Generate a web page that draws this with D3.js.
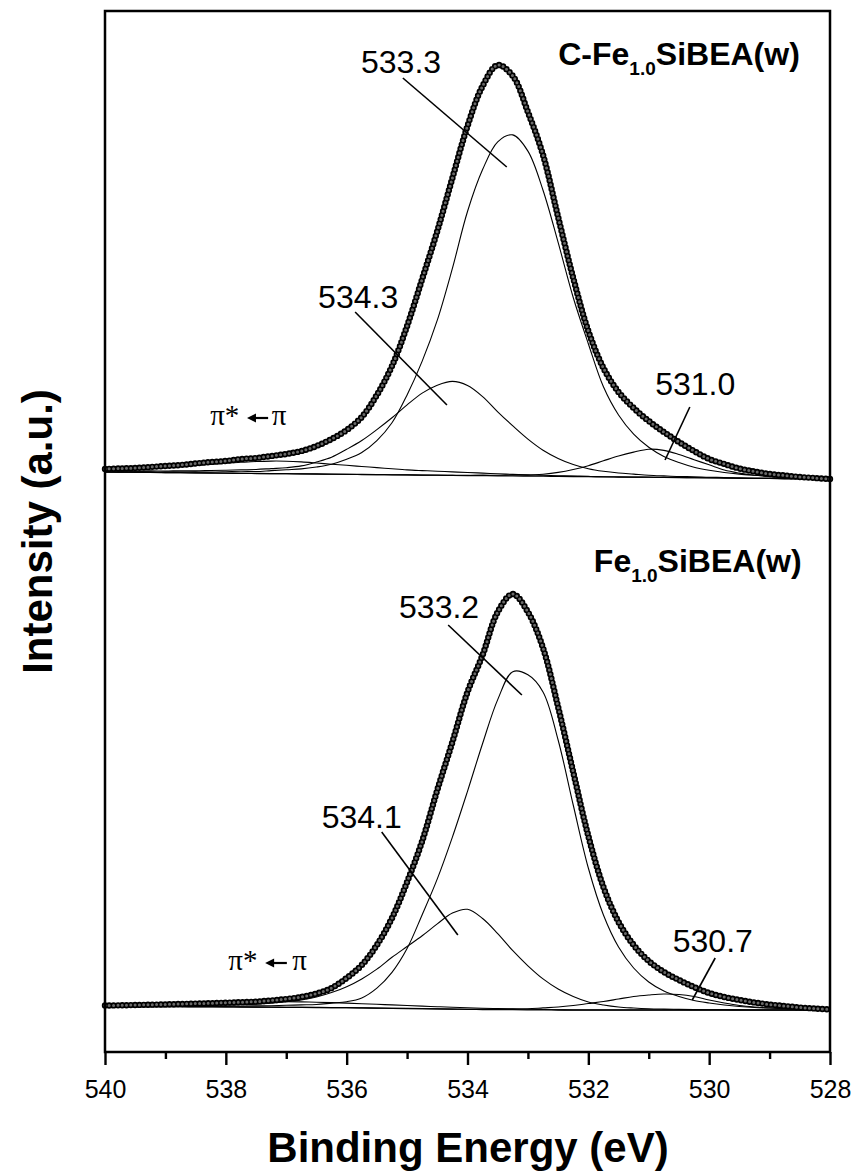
<!DOCTYPE html>
<html><head><meta charset="utf-8">
<script src="https://cdn.jsdelivr.net/npm/d3@7"></script>
<style>html,body{margin:0;padding:0;background:#fff}</style>
</head><body>
<svg id="chart" width="857" height="1171"></svg>
<script>
// Binding energy grid (eV)
const energy = [540,539.75,539.5,539.25,539,538.75,538.5,538.25,538,537.75,537.5,537.25,537,536.75,536.5,536.25,536,535.75,535.5,535.25,535,534.75,534.5,534.25,534,533.75,533.5,533.25,533,532.75,532.5,532.25,532,531.75,531.5,531.25,531,530.75,530.5,530.25,530,529.75,529.5,529.25,529,528.75,528.5,528.25,528];

// ---- C-Fe1.0SiBEA(w) (upper spectrum), intensity a.u. ----
const topData = [583,583.5,584,585,586,587,588.5,590,591,593,594,596,598,601,606,613,622,635,657,686,726,773,821,874,926,966,987,976,940,897,835,774,721,684,660,644,631,620,610,601,593,588,583.5,580.5,578,576.5,575,574,573];
const topBg = [580.0,579.9,579.7,579.6,579.4,579.3,579.1,579.0,578.8,578.7,578.5,578.4,578.3,578.1,578.0,577.8,577.7,577.5,577.4,577.2,577.1,576.9,576.8,576.6,576.5,576.4,576.2,576.1,575.9,575.8,575.6,575.5,575.3,575.2,575.0,574.9,574.8,574.6,574.5,574.3,574.2,574.0,573.9,573.7,573.6,573.4,573.3,573.1,573.0];
const topPeak5333 = [0,0,0.5,0.5,0.5,1,1,1,1.5,2,2,3,4,5,7,10,15,22,34,52,80,114,155,207,264,306,334,341,325,286,234,179,133,90,62,43,30,21,15,10.5,7.5,5.5,4,3,2,1.5,1,1,0.5];
const topPeak5343 = [1,1,1,1.5,1.5,2,2,2.5,3,3.5,4,5,6,8,12,17,25,34,45,57,70,82,90,94,90,79,64,50,37,26,18,12,8,5.5,4,3,2,1.5,1,1,0.5,0.5,0,0,0,0,0,0,0];
const topPeak5310 = [0,0,0,0,0,0,0,0,0,0,0,0,0,0,0,0,0,0,0,0,0,0,0,0,0,0.5,0.5,1,1,2,4,7,11,16,21,25,28,27,23,18,13,8,5,3,2,1,1,0.5,0];
const topShake = [2.5,3,3.5,4.5,5.5,6.5,7.5,9,10,11,12,12.5,12.5,12,11,10,9,8,7,6,5,4.5,4,3.5,3,2.5,2,1.5,1.2,1,0.7,0.5,0.3,0,0,0,0,0,0,0,0,0,0,0,0,0,0,0,0];

// ---- Fe1.0SiBEA(w) (lower spectrum) ----
const botData = [46.5,46.7,47,47.3,47.6,48,48.4,48.8,49.3,49.8,50.4,51.5,53,55,58.5,64,74,87,107,134,170,211,262,310,360,397,440,458,440,404,345,280,216,165,130,107,91,80,72,65,59,55,52,49.5,47.5,46,44.5,43.5,42.5];
const botBg = [45.5,45.5,45.4,45.4,45.3,45.3,45.2,45.2,45.1,45.0,44.9,44.8,44.7,44.6,44.5,44.4,44.3,44.1,43.9,43.7,43.5,43.3,43.1,42.9,42.7,42.5,42.4,42.3,42.2,42.1,42.0,42,42,42,42,42,42,42,42,42,42,42,42,42,42,42,42,42,42];
const botPeak5332 = [0,0.1,0.2,0.2,0.3,0.4,0.5,0.6,0.8,1,1.2,1.5,2,2.5,3,4.5,6,10,20,36,60,94,130,172,218,266,310,338,335,318,270,205,142,95,63,42,28,19,13.5,9.5,7,5,3.5,2.5,2,1.5,1,0.8,0.5];
const botPeak5341 = [0.4,0.5,0.6,0.7,0.8,1,1.3,1.6,2,2.5,3,4,5.5,7.5,10.5,15,21,29,39,51,62,73,85,96,100,91,76,59,44,31,21,13.5,8,5,3,2,1.3,0.9,0.6,0.4,0.3,0.2,0.1,0,0,0,0,0,0];
const botPeak5307 = [0,0,0,0,0,0,0,0,0,0,0,0,0,0,0,0,0,0,0,0,0,0,0,0,0,0.3,0.5,0.7,1,2,3,4.5,6.5,8.5,11,13.5,15,16,15.5,13.5,10,7,4.5,3,2,1.2,0.8,0.5,0.3];
const botShake = [1,1.2,1.5,1.8,2.2,2.6,3,3.5,4,4.5,5,5.3,5.5,5.5,5.3,5,4.6,4.2,3.8,3.4,3,2.6,2.2,1.9,1.6,1.3,1,0.8,0.6,0.4,0.3,0,0,0,0,0,0,0,0,0,0,0,0,0,0,0,0,0,0];

// ---- axis ticks ----
const tickValues = [540,539,538,537,536,535,534,533,532,531,530,529,528];
const tickLabels = ["540","","538","","536","","534","","532","","530","","528"];

// ---- annotations (energy, intensity) ----
const peakLabels = [
  {text:"533.3", E:535.10, v:979},
  {text:"534.3", E:535.81, v:744},
  {text:"531.0", E:530.23, v:657},
  {text:"533.2", E:534.47, v:434},
  {text:"534.1", E:535.75, v:224},
  {text:"530.7", E:529.94, v:100}
];
const leaderLines = [
  {E1:535.07, v1:974, E2:533.35, v2:885},
  {E1:535.86, v1:740, E2:534.34, v2:647},
  {E1:530.32, v1:645, E2:530.73, v2:592},
  {E1:534.32, v1:427, E2:533.10, v2:357},
  {E1:535.42, v1:220, E2:534.16, v2:117},
  {E1:529.90, v1:94,  E2:530.28, v2:52}
];
const sampleNames = [
  {pre:"C-Fe", sub:"1.0", post:"SiBEA(w)", E:528.50, v:987},
  {pre:"Fe",   sub:"1.0", post:"SiBEA(w)", E:528.47, v:480}
];
const shakeLabels = [
  {E:538.26, v:627, headE:537.65, tailE:537.30, av:634, E2:537.24},
  {E:537.96, v:82,  headE:537.35, tailE:536.99, av:89,  E2:536.90}
];

// ---- drawing ----
const svg = d3.select("#chart");
const x = d3.scaleLinear().domain([540,528]).range([105,830]);
const y = d3.scaleLinear().domain([0,1041]).range([1052,11]);
const SANS = "'Liberation Sans', Arial, Helvetica, sans-serif";
const SERIF = "'Liberation Serif', 'Times New Roman', serif";

function drawPanel(data, bg, comps){
  const g = svg.append("g");
  const bgLine = d3.line().x((d,i)=>x(energy[i])).y(d=>y(d)).curve(d3.curveCatmullRom.alpha(0.5));
  g.append("path").attr("d", bgLine(bg)).attr("fill","none").attr("stroke","#000").attr("stroke-width",1.3);
  comps.forEach(c=>{
    const ln = d3.line().x((d,i)=>x(energy[i])).y((d,i)=>y(bg[i]+d)).curve(d3.curveCatmullRom.alpha(0.5));
    g.append("path").attr("d", ln(c)).attr("fill","none").attr("stroke","#000").attr("stroke-width",1.1);
  });
  const dl = d3.line().x((d,i)=>x(energy[i])).y(d=>y(d)).curve(d3.curveCatmullRom.alpha(0.5));
  g.append("path").attr("d", dl(data)).attr("fill","none").attr("stroke","#000")
    .attr("stroke-width",6.4).attr("stroke-linecap","round").attr("stroke-dasharray","0 4.3");
  g.append("path").attr("d", dl(data)).attr("fill","none").attr("stroke","#6a6a6a")
    .attr("stroke-width",3.0).attr("stroke-linecap","round").attr("stroke-dasharray","0 4.3");
}
drawPanel(topData, topBg, [topPeak5333, topPeak5343, topPeak5310, topShake]);
drawPanel(botData, botBg, [botPeak5332, botPeak5341, botPeak5307, botShake]);

// leaders and labels
svg.append("g").selectAll("line").data(leaderLines).join("line")
  .attr("x1",d=>x(d.E1)).attr("y1",d=>y(d.v1)).attr("x2",d=>x(d.E2)).attr("y2",d=>y(d.v2))
  .attr("stroke","#000").attr("stroke-width",1.6);
svg.append("g").selectAll("text").data(peakLabels).join("text")
  .attr("x",d=>x(d.E)).attr("y",d=>y(d.v)).attr("text-anchor","middle")
  .attr("font-family",SANS).attr("font-size",32).attr("fill","#000").text(d=>d.text);

sampleNames.forEach(s=>{
  const t = svg.append("text").attr("x",x(s.E)).attr("y",y(s.v)).attr("text-anchor","end")
    .attr("font-family",SANS).attr("font-weight","bold").attr("font-size",32).attr("fill","#000");
  t.append("tspan").text(s.pre);
  t.append("tspan").attr("font-size",19).attr("dy",10).text(s.sub);
  t.append("tspan").attr("font-size",32).attr("dy",-10).text(s.post);
});

shakeLabels.forEach(s=>{
  svg.append("text").attr("x",x(s.E)).attr("y",y(s.v)).attr("font-family",SERIF).attr("font-size",29).text("π*");
  svg.append("text").attr("x",x(s.E2)).attr("y",y(s.v)).attr("font-family",SERIF).attr("font-size",29).text("π");
  const hx = x(s.headE), tx = x(s.tailE), ay = y(s.av);
  svg.append("line").attr("x1",hx+6).attr("y1",ay).attr("x2",tx).attr("y2",ay).attr("stroke","#000").attr("stroke-width",2.2);
  svg.append("path").attr("d",`M${hx},${ay} L${hx+9},${ay-4.5} L${hx+9},${ay+4.5} Z`).attr("fill","#000");
});

// bottom axis
const axis = d3.axisBottom(x).tickValues(tickValues).tickSize(13).tickSizeOuter(0).tickPadding(15)
  .tickFormat((d,i)=>tickLabels[i]);
const ax = svg.append("g").attr("transform","translate(0,1052)").call(axis);
ax.select(".domain").remove();
ax.selectAll(".tick line").attr("stroke","#000").attr("stroke-width",2.4)
  .attr("y2",(d,i)=>tickLabels[i]===""?7:13);
ax.selectAll(".tick text").attr("font-family",SANS).attr("font-size",25).attr("fill","#000");

// frame
svg.append("rect").attr("x",x(540)).attr("y",y(1041)).attr("width",x(528)-x(540)).attr("height",y(0)-y(1041))
  .attr("fill","none").attr("stroke","#000").attr("stroke-width",2.5);

// axis titles
svg.append("text").attr("x",(x(540)+x(528))/2+0.5).attr("y",1162).attr("text-anchor","middle")
  .attr("font-family",SANS).attr("font-weight","bold").attr("font-size",42).text("Binding Energy (eV)");
svg.append("text").attr("transform",`translate(52,${(y(0)+y(1041))/2}) rotate(-90)`).attr("text-anchor","middle")
  .attr("font-family",SANS).attr("font-weight","bold").attr("font-size",42).text("Intensity (a.u.)");
</script>
</body></html>
